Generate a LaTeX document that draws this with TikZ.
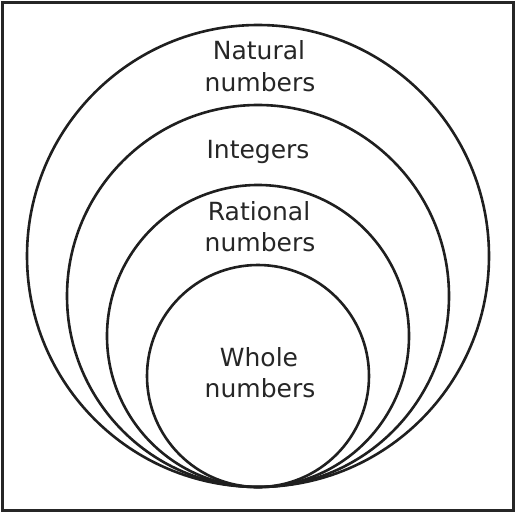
\documentclass[tikz,border=0pt]{standalone}
\usepackage{fontspec}
\setmainfont{DejaVu Sans}
\begin{document}
\begin{tikzpicture}[x=1pt,y=-1pt,
  ring/.style={line width=2.6pt, draw=black!88},
  lbl/.style={anchor=base, inner sep=0pt, font=\fontsize{25}{30}\selectfont, text=black!85}]
\useasboundingbox (0,0) rectangle (516,513);
\draw[line width=2.6pt, draw=black!85] (2.5,2.5) rectangle (513.5,510.5);
\draw[ring] (258,256) circle[radius=231];
\draw[ring] (258,296) circle[radius=191];
\draw[ring] (258,336) circle[radius=151];
\draw[ring] (258,376) circle[radius=111];
\node[lbl] (nat1) at (259,59.5) {Natural};
\node[lbl] (nat2) at (260,91.5) {numbers};
\node[lbl] (int) at (258,158.5) {Integers};
\node[lbl] (rat1) at (259,220.5) {Rational};
\node[lbl] (rat2) at (260,251.5) {numbers};
\node[lbl] (who1) at (259,366.5) {Whole};
\node[lbl] (who2) at (260,397) {numbers};
\end{tikzpicture}
\end{document}
